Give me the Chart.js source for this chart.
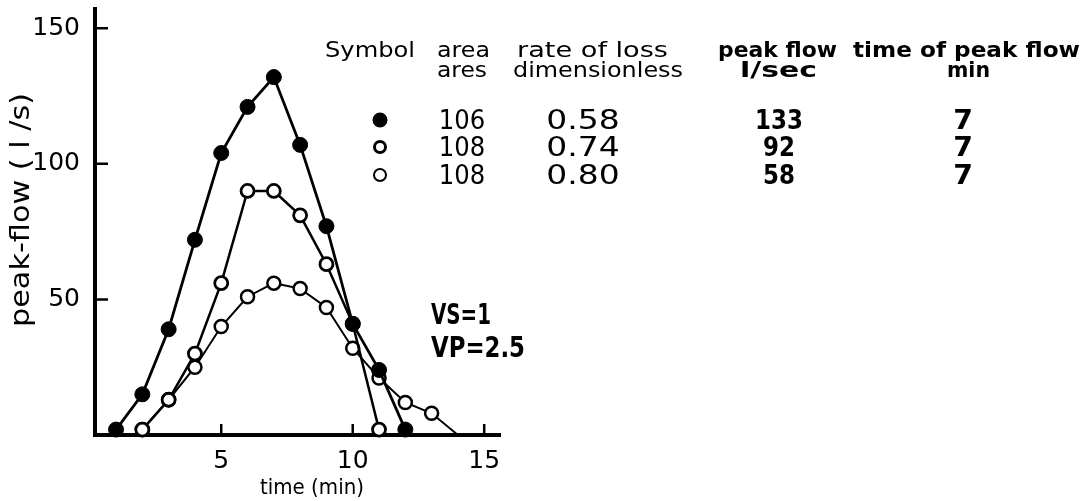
<!DOCTYPE html>
<html>
<head>
<meta charset="utf-8">
<script src="https://cdn.jsdelivr.net/npm/chart.js@4.4.1/dist/chart.umd.min.js"></script>
<style>
html, body { margin: 0; padding: 0; background: #fff; }
</style>
</head>
<body>
<canvas id="flowChart" width="1092" height="501"></canvas>
<script>
// hydrographs, values (time in min, flow in l/s)
const timeA = [1, 2, 3, 4, 5, 6, 7, 8, 9, 10, 11, 12];
const flowA = [2, 15, 39, 72, 104, 121, 132, 107, 77, 41, 24, 2];
const timeB = [2, 3, 4, 5, 6, 7, 8, 9, 10, 11];
const flowB = [2, 13, 30, 56, 90, 90, 81, 63, 41, 2];
const timeC = [2, 3, 4, 5, 6, 7, 8, 9, 10, 11, 12, 13, 14];
const flowC = [2, 13, 25, 40, 51, 56, 54, 47, 32, 21, 12, 8, 0];

const xTicks = [5, 10, 15];
const yTicks = [50, 100, 150];

// table top right
const areas = ['106', '108', '108'];
const lossRates = ['0.58', '0.74', '0.80'];
const peakFlows = ['133', '92', '58'];
const peakTimes = ['7', '7', '7'];
const notes = ['VS=1', 'VP=2.5'];

const FONT = '"DejaVu Sans", sans-serif';
const pts = (xs, ys) => xs.map((x, i) => ({ x: x, y: ys[i] }));

// draw text stretched to a given width, left aligned on the baseline
function fitText(ctx, text, left, base, width, font) {
    ctx.save();
    ctx.font = font;
    ctx.textAlign = 'left';
    ctx.textBaseline = 'alphabetic';
    const w = ctx.measureText(text).width;
    ctx.translate(left, base);
    ctx.scale(width / w, 1);
    ctx.fillText(text, 0, 0);
    ctx.restore();
}
// centered text with a horizontal stretch
function midText(ctx, text, cx, base, sx, font) {
    ctx.save();
    ctx.font = font;
    ctx.textAlign = 'center';
    ctx.textBaseline = 'alphabetic';
    ctx.translate(cx, base);
    ctx.scale(sx, 1);
    ctx.fillText(text, 0, 0);
    ctx.restore();
}

const innerTicks = {
    id: 'innerTicks',
    afterDatasetsDraw(chart) {
        const { ctx, chartArea, scales: { x, y } } = chart;
        ctx.save();
        ctx.strokeStyle = '#000';
        ctx.lineWidth = 2.5;
        ctx.beginPath();
        yTicks.forEach(v => {
            const py = y.getPixelForValue(v);
            ctx.moveTo(chartArea.left, py); ctx.lineTo(chartArea.left + 13, py);
        });
        xTicks.forEach(v => {
            const px = x.getPixelForValue(v);
            ctx.moveTo(px, chartArea.bottom); ctx.lineTo(px, chartArea.bottom - 11);
        });
        ctx.stroke();
        ctx.restore();
    }
};

const tableText = {
    id: 'tableText',
    afterDraw(chart) {
        const ctx = chart.ctx;
        ctx.save();
        ctx.fillStyle = '#000';
        ctx.strokeStyle = '#000';

        // axis titles
        fitText(ctx, 'time (min)', 260, 494, 104, '21px ' + FONT);
        ctx.save();
        ctx.translate(29, 327);
        ctx.rotate(-Math.PI / 2);
        fitText(ctx, 'peak-flow ( l /s)', 0, 0, 234, '26px ' + FONT);
        ctx.restore();

        // headers
        const h = '22px ' + FONT, hb = 'bold 21px ' + FONT;
        fitText(ctx, 'Symbol', 325, 57, 90, h);
        fitText(ctx, 'area', 437, 57, 53, h);
        fitText(ctx, 'ares', 437, 77, 50, h);
        fitText(ctx, 'rate of loss', 517, 57, 151, h);
        fitText(ctx, 'dimensionless', 513, 77, 170, h);
        fitText(ctx, 'peak flow', 718, 57, 119, hb);
        fitText(ctx, 'l/sec', 740, 77, 77, hb);
        fitText(ctx, 'time of peak flow', 853, 57, 227, hb);
        fitText(ctx, 'min', 947, 77, 43, hb);

        // rows
        const rowBase = [129, 156, 184];
        const n = '27px ' + FONT, nb = 'bold 27px ' + FONT;
        areas.forEach((t, i) => midText(ctx, t, 462, rowBase[i], 0.9, n));
        lossRates.forEach((t, i) => midText(ctx, t, 583, rowBase[i], 1.22, n));
        peakFlows.forEach((t, i) => midText(ctx, t, 779, rowBase[i], 0.85, nb));
        peakTimes.forEach((t, i) => midText(ctx, t, 963, rowBase[i], 1.05, nb));

        // symbols
        const sy = rowBase.map(b => b - 9);
        ctx.beginPath(); ctx.arc(380, sy[0], 7.5, 0, Math.PI * 2); ctx.fill();
        ctx.beginPath(); ctx.lineWidth = 3; ctx.arc(380, sy[1], 5.5, 0, Math.PI * 2); ctx.stroke();
        ctx.beginPath(); ctx.lineWidth = 2; ctx.arc(380, sy[2], 6, 0, Math.PI * 2); ctx.stroke();

        // VS / VP note
        fitText(ctx, notes[0], 431, 324, 60, 'bold 28px ' + FONT);
        fitText(ctx, notes[1], 431, 357, 94, 'bold 28px ' + FONT);
        ctx.restore();
    }
};

new Chart(document.getElementById('flowChart'), {
    type: 'line',
    data: {
        datasets: [
            { label: '0.58', data: pts(timeA, flowA), borderColor: '#000', borderWidth: 2.8,
              pointRadius: 7.5, pointBackgroundColor: '#000', pointBorderColor: '#000', pointBorderWidth: 1, clip: false },
            { label: '0.74', data: pts(timeB, flowB), borderColor: '#000', borderWidth: 2.5,
              pointRadius: 6.5, pointBackgroundColor: '#fff', pointBorderColor: '#000', pointBorderWidth: 2.8, clip: false },
            { label: '0.80', data: pts(timeC, flowC), borderColor: '#000', borderWidth: 2,
              pointRadius: c => c.dataIndex === flowC.length - 1 ? 0 : 6.5,
              pointBackgroundColor: '#fff', pointBorderColor: '#000', pointBorderWidth: 2.5, clip: false }
        ]
    },
    options: {
        responsive: false, animation: false,
        layout: { padding: { top: 8, right: 592, left: 0, bottom: 0 } },
        plugins: { legend: { display: false }, tooltip: { enabled: false } },
        scales: {
            x: {
                type: 'linear', min: 0.2, max: 15.6,
                grid: { display: false },
                border: { display: true, color: '#000', width: 4 },
                ticks: { color: '#000', font: { family: FONT, size: 25 }, padding: 3 },
                afterBuildTicks: s => { s.ticks = xTicks.map(v => ({ value: v })); },
                afterFit: s => { s.height = 66; s.paddingLeft = 0; s.paddingRight = 0; }
            },
            y: {
                type: 'linear', min: 0, max: 157,
                grid: { display: false },
                border: { display: true, color: '#000', width: 4 },
                ticks: { color: '#000', font: { family: FONT, size: 25 }, padding: 7 },
                afterBuildTicks: s => { s.ticks = yTicks.map(v => ({ value: v })); },
                afterFit: s => { s.width = 95; s.paddingTop = 0; s.paddingBottom = 0; }
            }
        }
    },
    plugins: [innerTicks, tableText]
});
</script>
</body>
</html>
